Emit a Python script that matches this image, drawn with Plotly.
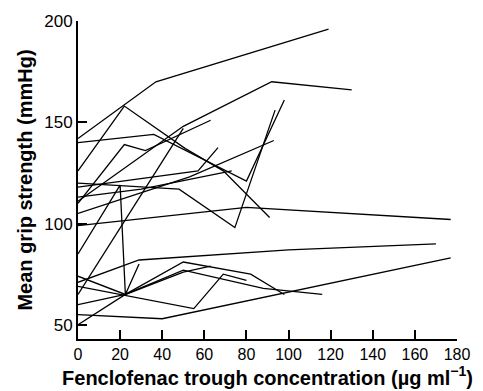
import plotly.graph_objects as go

# Each patient: fenclofenac trough concentration (ug/ml) vs mean grip strength (mmHg)
p01_conc = [0, 37, 119]
p01_grip = [142, 170, 196]
p02_conc = [0, 22, 51, 69, 91]
p02_grip = [126, 158, 137, 126, 103]
p03_conc = [0, 36, 80, 98]
p03_grip = [140, 144, 121, 161]
p04_conc = [0, 50, 92, 130]
p04_grip = [111, 148, 170, 166]
p05_conc = [0, 22, 32, 63]
p05_grip = [110, 139, 136, 151]
p06_conc = [0, 20, 22.5, 29]
p06_grip = [85, 119, 65, 80]
p07_conc = [0, 80, 177]
p07_grip = [99, 108, 102]
p08_conc = [0, 29, 100, 170]
p08_grip = [71, 82, 87, 90]
p09_conc = [0, 40, 177]
p09_grip = [55, 53, 83]
p10_conc = [0, 48, 74.5, 93.6]
p10_grip = [120, 117, 98, 156]
p11_conc = [0, 53, 93]
p11_grip = [105, 123, 141]
p12_conc = [0, 30, 73]
p12_grip = [113, 117, 126]
p13_conc = [0, 57, 66.5]
p13_grip = [118, 126, 137.5]
p14_conc = [0, 55, 69, 80]
p14_grip = [69, 58, 75, 72]
p15_conc = [0, 22.5, 50, 82, 98]
p15_grip = [60, 65, 81, 75, 65]
p16_conc = [0, 22.5, 50, 88, 116]
p16_grip = [50, 65, 77, 68, 65]
p17_conc = [0, 22.5, 50, 63]
p17_grip = [74, 65, 76, 79]
p18_conc = [0, 50]
p18_grip = [65, 147]

patients = [
    (p01_conc, p01_grip), (p02_conc, p02_grip), (p03_conc, p03_grip),
    (p04_conc, p04_grip), (p05_conc, p05_grip), (p06_conc, p06_grip),
    (p07_conc, p07_grip), (p08_conc, p08_grip), (p09_conc, p09_grip),
    (p10_conc, p10_grip), (p11_conc, p11_grip), (p12_conc, p12_grip),
    (p13_conc, p13_grip), (p14_conc, p14_grip), (p15_conc, p15_grip),
    (p16_conc, p16_grip), (p17_conc, p17_grip), (p18_conc, p18_grip),
]

x_ticks = [0, 20, 40, 60, 80, 100, 120, 140, 160, 180]
y_ticks = [50, 100, 150, 200]

fig = go.Figure()
for cx, gy in patients:
    fig.add_trace(go.Scatter(x=cx, y=gy, mode="lines",
                             line=dict(color="black", width=1.3),
                             showlegend=False, hoverinfo="skip"))

font_family = "Liberation Sans, Arial, sans-serif"
fig.update_layout(
    width=483, height=391,
    margin=dict(l=78, r=26, t=19, b=50),
    paper_bgcolor="white", plot_bgcolor="white",
    font=dict(family=font_family, color="black", size=16),
    xaxis=dict(
        range=[0, 180], tickvals=x_ticks, ticktext=[str(v) for v in x_ticks],
        ticks="inside", ticklen=9, tickwidth=1.6, tickcolor="black",
        showline=True, linewidth=2, linecolor="black",
        showgrid=False, zeroline=False,
        tickfont=dict(size=16, family=font_family),
        title=dict(text="Fenclofenac trough concentration (\u00b5g ml<sup>\u22121</sup>)",
                   font=dict(size=20, family=font_family, weight="bold"), standoff=2),
    ),
    yaxis=dict(
        range=[43, 200], tickvals=y_ticks, ticktext=[str(v) for v in y_ticks],
        ticks="inside", ticklen=9, tickwidth=1.6, tickcolor="black",
        showline=True, linewidth=2, linecolor="black",
        showgrid=False, zeroline=False,
        tickfont=dict(size=17, family=font_family),
        title=dict(text="Mean grip strength (mmHg)",
                   font=dict(size=20, family=font_family, weight="bold"), standoff=6),
    ),
)

fig.write_html("out.html")
